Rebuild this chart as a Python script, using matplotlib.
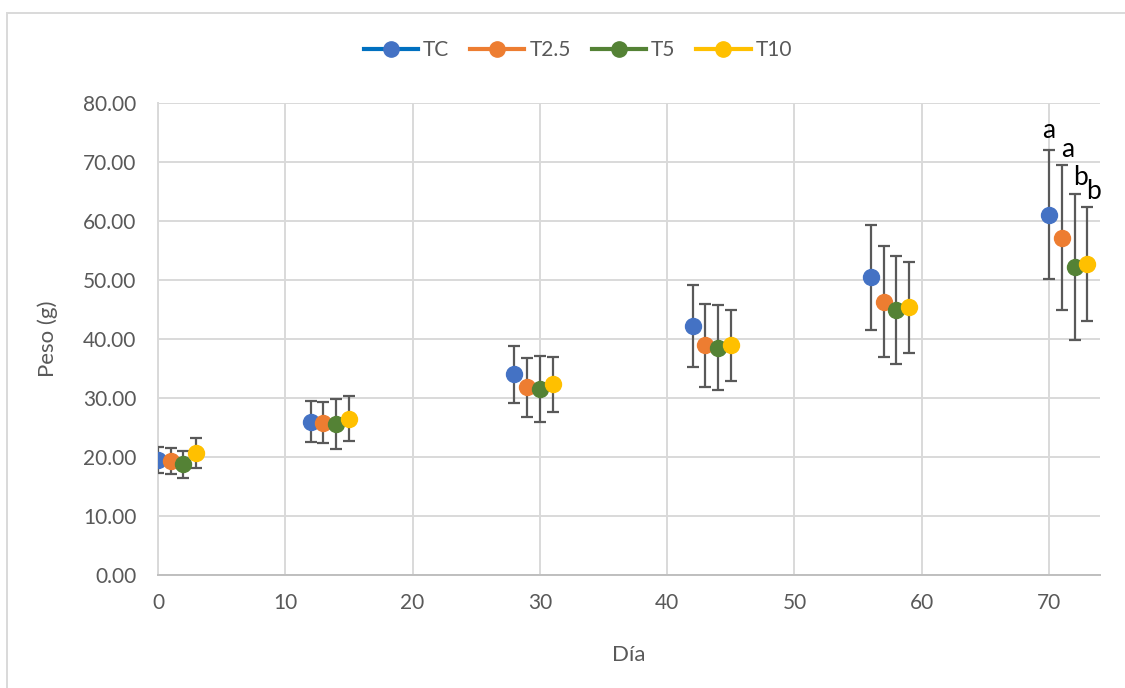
import matplotlib
matplotlib.use("Agg")
import matplotlib.pyplot as plt
from matplotlib.lines import Line2D
from matplotlib.patches import Rectangle
import numpy as np

# ---------------- data ----------------
series_names = ["TC", "T2.5", "T5", "T10"]
days_TC = [0, 12, 28, 42, 56, 70]
days_T25 = [1, 13, 29, 43, 57, 71]
days_T5 = [2, 14, 30, 44, 58, 72]
days_T10 = [3, 15, 31, 45, 59, 73]

peso_TC = [19.5, 26.0, 34.0, 42.2, 50.5, 61.1]
peso_T25 = [19.4, 25.8, 31.8, 38.9, 46.3, 57.2]
peso_T5 = [18.8, 25.6, 31.5, 38.5, 44.9, 52.2]
peso_T10 = [20.7, 26.5, 32.3, 38.9, 45.4, 52.7]

sd_TC = [2.2, 3.5, 4.8, 7.0, 8.9, 10.9]
sd_T25 = [2.2, 3.5, 5.0, 7.0, 9.4, 12.3]
sd_T5 = [2.3, 4.3, 5.6, 7.2, 9.2, 12.4]
sd_T10 = [2.5, 3.8, 4.6, 6.1, 7.7, 9.7]

letters_final = ["a", "a", "b", "b"]

x_ticks = [0, 10, 20, 30, 40, 50, 60, 70]
y_ticks = [0, 10, 20, 30, 40, 50, 60, 70, 80]

# ---------------- style ----------------
plt.rcParams["font.family"] = ["Lato", "DejaVu Sans"]
marker_colors = ["#4472C4", "#ED7D31", "#548235", "#FFC000"]
line_colors = ["#0070C0", "#ED7D31", "#548235", "#FFC000"]
text_gray = "#595959"
grid_gray = "#D9D9D9"

fig = plt.figure(figsize=(11.25, 6.88), dpi=100)
ax = fig.add_axes([158 / 1125, 1 - 575 / 688, (1100 - 158) / 1125, (575 - 103) / 688])

all_days = [days_TC, days_T25, days_T5, days_T10]
all_peso = [peso_TC, peso_T25, peso_T5, peso_T10]
all_sd = [sd_TC, sd_T25, sd_T5, sd_T10]

for d, p, s, mc in zip(all_days, all_peso, all_sd, marker_colors):
    ax.errorbar(d, p, yerr=s, fmt="none", ecolor=text_gray, elinewidth=1.6,
                capsize=4.3, capthick=1.6, zorder=3)
    ax.plot(d, p, linestyle="none", marker="o", markersize=11.5,
            markerfacecolor=mc, markeredgecolor=mc, zorder=4)

# significance letters at final day
label_offsets = [(0, 14), (4, 11), (4.5, 12), (4.5, 11)]
for d, p, s, lab, off in zip(all_days, all_peso, all_sd, letters_final, label_offsets):
    ax.annotate(lab, xy=(d[-1], p[-1] + s[-1]), xytext=off, textcoords="offset points",
                ha="center", va="center", fontsize=19, color="black", zorder=5)

ax.set_xlim(0, 74)
ax.set_ylim(0, 80)
ax.set_xticks(x_ticks)
ax.set_yticks(y_ticks)
ax.set_yticklabels([f"{v:.2f}" for v in y_ticks])
ax.tick_params(axis="both", length=0, labelsize=15, labelcolor=text_gray)
ax.tick_params(axis="x", pad=13)
ax.tick_params(axis="y", pad=15.5)

ax.grid(True, color=grid_gray, linewidth=1.4, zorder=0)
ax.set_axisbelow(True)
for sp in ["top", "right"]:
    ax.spines[sp].set_visible(False)
ax.spines["left"].set_color(grid_gray)
ax.spines["left"].set_linewidth(1.4)
ax.spines["bottom"].set_color("#BFBFBF")
ax.spines["bottom"].set_linewidth(1.4)

ax.set_xlabel("Día", fontsize=16, color=text_gray)
ax.set_ylabel("Peso (g)", fontsize=16, color=text_gray)
ax.xaxis.set_label_coords(0.5, -(645 - 575) / 472)
ax.yaxis.set_label_coords(-(158 - 58) / 942, 0.5)

handles = [Line2D([0], [0], color=lc, linewidth=3, marker="o", markersize=11,
                  markerfacecolor=mc, markeredgecolor=mc)
           for lc, mc in zip(line_colors, marker_colors)]
leg = fig.legend(handles, series_names, loc="center", bbox_to_anchor=(578 / 1125, 1 - 50 / 688),
                 ncol=4, frameon=False, fontsize=15, handlelength=2.6, handletextpad=0.25,
                 columnspacing=1.0)
for t in leg.get_texts():
    t.set_color(text_gray)

# chart border
fig.patches.append(Rectangle((7 / 1125, -0.1), 1.2, 1.1 - 13 / 688, transform=fig.transFigure,
                             fill=False, edgecolor=grid_gray, linewidth=1.4, clip_on=False))

fig.savefig("out.png", dpi=100)
